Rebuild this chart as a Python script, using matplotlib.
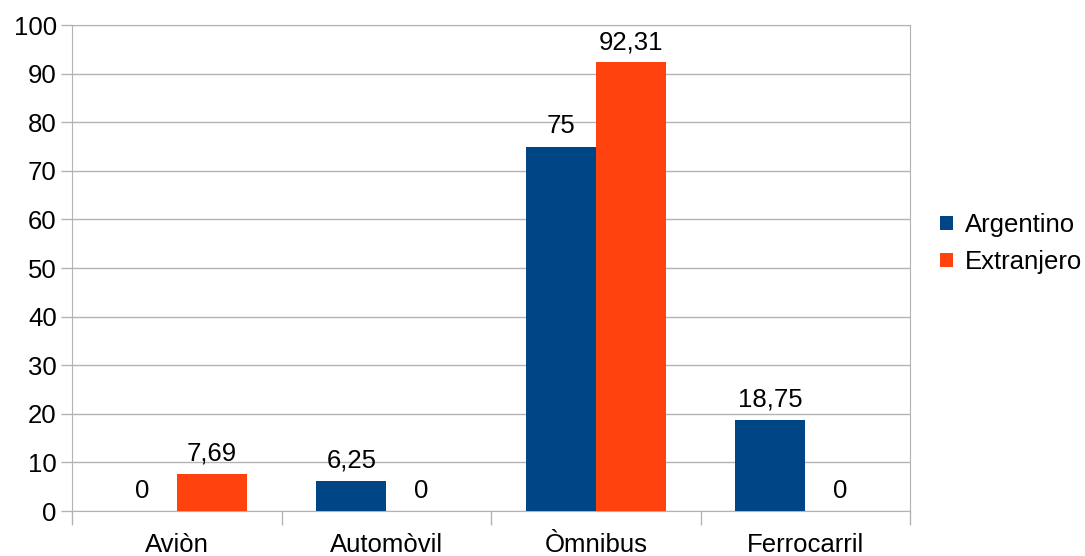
import matplotlib.pyplot as plt
import numpy as np

plt.rcParams['font.family'] = ['Liberation Sans', 'DejaVu Sans']

categorias = ['Aviòn', 'Automòvil', 'Òmnibus', 'Ferrocarril']
argentino = [0, 6.25, 75, 18.75]
extranjero = [7.69, 0, 92.31, 0]
etiquetas_arg = ['0', '6,25', '75', '18,75']
etiquetas_ext = ['7,69', '0', '92,31', '0']

fs = 18.5
fig = plt.figure(figsize=(10.85, 5.56), dpi=100)
ax = fig.add_axes([0.0664, 0.0809, 0.7723, 0.8741])

x = np.arange(len(categorias))
w = 0.334
b1 = ax.bar(x - w / 2, argentino, w, color='#004586', label='Argentino', zorder=3)
b2 = ax.bar(x + w / 2, extranjero, w, color='#ff420e', label='Extranjero', zorder=3)

for bars, labs in ((b1, etiquetas_arg), (b2, etiquetas_ext)):
    for r, t in zip(bars, labs):
        ax.annotate(t, (r.get_x() + r.get_width() / 2, r.get_height()),
                    xytext=(0, 6), textcoords='offset points',
                    ha='center', va='bottom', fontsize=fs)

ax.set_xlim(-0.5, 3.5)
ax.set_ylim(0, 100)
ax.set_yticks(range(0, 101, 10))
ax.set_xticks(x)
ax.set_xticklabels(categorias)
ax.set_xticks(np.arange(-0.5, 4, 1), minor=True)
ax.tick_params(axis='x', which='major', length=0, pad=16, labelsize=fs)
ax.tick_params(axis='x', which='minor', length=10, color='#b3b3b3', width=1)
ax.tick_params(axis='y', length=8, color='#b3b3b3', width=1, labelsize=fs, pad=3)
ax.yaxis.grid(True, color='#b3b3b3', linewidth=1, zorder=0)
for s in ax.spines.values():
    s.set_color('#b3b3b3')

ax.legend(loc='center left', bbox_to_anchor=(1.036, 0.55), frameon=False,
          fontsize=fs, handlelength=0.5, handleheight=0.5, handletextpad=0.45,
          labelspacing=0.5, borderpad=0, borderaxespad=0)

fig.savefig('out.png', dpi=100)
